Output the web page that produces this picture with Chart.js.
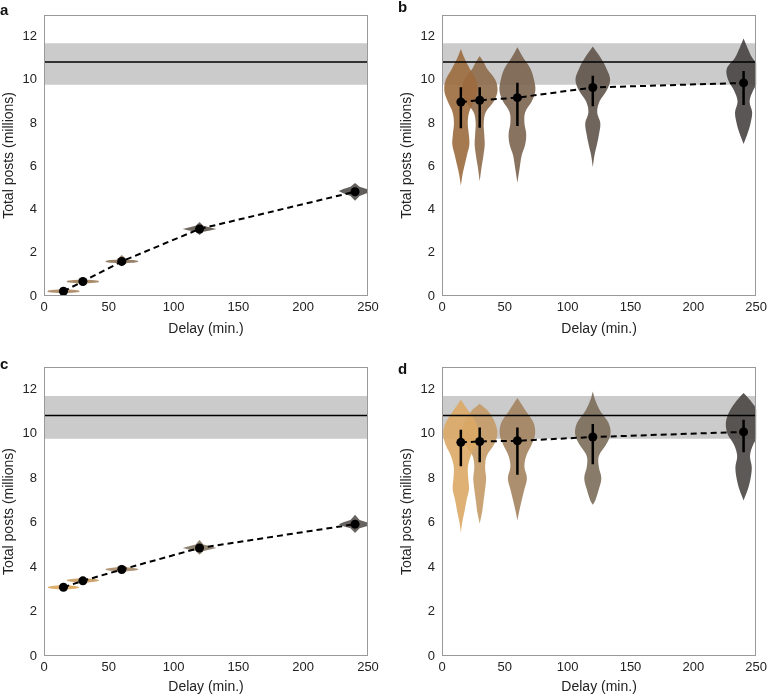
<!DOCTYPE html>
<html>
<head>
<meta charset="utf-8">
<script src="https://cdn.jsdelivr.net/npm/chart.js@4.4.1/dist/chart.umd.min.js"></script>
<style>
  body { margin: 0; background: #fff; width: 771px; height: 696px; position: relative; overflow: hidden; font-family: "Liberation Sans", Arial, sans-serif; }
  canvas { position: absolute; }
  .tag { position: absolute; font-weight: bold; font-size: 15px; color: #111; line-height: 1; }
</style>
</head>
<body>
<canvas id="pa" width="385" height="340" style="left:0;top:0"></canvas>
<canvas id="pb" width="386" height="340" style="left:385px;top:0"></canvas>
<canvas id="pc" width="385" height="351" style="left:0;top:345px"></canvas>
<canvas id="pd" width="386" height="351" style="left:385px;top:345px"></canvas>
<div class="tag" style="left:0px;top:2px">a</div>
<div class="tag" style="left:398px;top:-1px">b</div>
<div class="tag" style="left:0px;top:356px">c</div>
<div class="tag" style="left:398px;top:361px">d</div>
<script>
// delays (min.) and axis ticks
const delays = [15, 30, 60, 120, 240];
const xTicks = [0, 50, 100, 150, 200, 250];
const yTicks = [0, 2, 4, 6, 8, 10, 12];

// reference level (black line) and its gray band
const refLevel = 10.82;
const refLow = 9.77;
const refHigh = 11.69;

// means and error bars per panel
const meanA = [0.22, 0.67, 1.6, 3.1, 4.82];
const meanB = [8.97, 9.05, 9.17, 9.64, 9.85];
const lowB = [7.75, 7.78, 7.86, 8.77, 8.83];
const highB = [9.65, 9.65, 9.86, 10.18, 10.4];
const meanC = [3.09, 3.38, 3.89, 4.86, 5.93];
const meanD = [9.61, 9.65, 9.68, 9.85, 10.08];
const lowD = [8.53, 8.72, 8.15, 8.63, 9.16];
const highD = [10.18, 10.28, 10.28, 10.44, 10.63];

// violin profiles: [value, half width in min.]
const violinsA = [
  [[0.12,0],[0.14,4],[0.16,9],[0.19,12],[0.22,12.5],[0.25,12],[0.28,9],[0.3,4],[0.32,0]],
  [[0.55,0],[0.59,4],[0.61,9],[0.64,12],[0.67,12.5],[0.7,12],[0.73,9],[0.75,4],[0.8,0]],
  [[1.38,0],[1.52,4],[1.54,9],[1.57,12.2],[1.6,12.8],[1.63,12.2],[1.66,9],[1.68,4],[1.9,0]],
  [[2.82,0],[2.97,3],[3.04,9],[3.1,13],[3.16,9],[3.25,3],[3.42,0]],
  [[4.4,0],[4.62,3.5],[4.75,9],[4.85,12.6],[4.95,9],[5.05,3.5],[5.22,0]]
];
const violinsB = [
  [[5.1,0],[5.6,1.3],[6.0,2.8],[6.5,4.8],[7.0,6.8],[7.5,6.3],[8.0,5.5],[8.5,6.6],[9.0,10.5],[9.5,13.2],[10.0,12],[10.5,7.2],[11.0,2.8],[11.42,0]],
  [[5.3,0],[6.0,1.6],[6.5,3],[7.0,4],[7.5,3.6],[8.0,3.2],[8.5,4.8],[9.0,11.3],[9.5,14.2],[10.0,12.4],[10.5,6],[10.8,3.3],[11.1,0]],
  [[5.23,0],[6.0,2],[6.5,3.4],[7.0,6.2],[7.5,7],[8.0,5.6],[8.5,6.2],[9.0,11.5],[9.5,14.3],[10.0,13.2],[10.5,10.5],[11.0,4.8],[11.5,0]],
  [[5.95,0],[6.5,1.3],[7.0,3.3],[7.5,5],[8.0,6],[8.5,3.5],[9.0,5.4],[9.5,11],[10.0,13.8],[10.5,11],[11.0,6.4],[11.53,0]],
  [[7.03,0],[7.5,3.1],[8.0,5.6],[8.5,6.8],[9.0,4.8],[9.5,7.6],[10.0,12.4],[10.5,13.4],[11.0,7],[11.5,2.9],[11.9,0]]
];
const violinsC = [
  [[2.98,0],[3.0,4],[3.03,9],[3.06,11.7],[3.09,12.2],[3.12,11.7],[3.15,9],[3.18,4],[3.21,0]],
  [[3.26,0],[3.31,4],[3.34,9],[3.37,12],[3.4,12.5],[3.43,12],[3.46,9],[3.49,4],[3.56,0]],
  [[3.72,0],[3.81,4],[3.84,9],[3.87,12.2],[3.9,12.8],[3.93,12.2],[3.96,9],[3.99,4],[4.1,0]],
  [[4.55,0],[4.72,3],[4.8,9],[4.86,13],[4.92,9],[5.02,3],[5.22,0]],
  [[5.53,0],[5.75,3.5],[5.84,9],[5.93,12.6],[6.02,9],[6.12,3.5],[6.35,0]]
];
const violinsD = [
  [[5.55,0],[6.0,1.1],[6.5,2.9],[7.0,4.5],[7.5,6.5],[8.0,5.9],[8.5,5.6],[9.0,7.9],[9.5,12.1],[10.0,14.1],[10.5,12],[11.0,6.4],[11.53,0]],
  [[5.95,0],[6.5,2],[7.0,3.1],[7.5,4.3],[8.0,5.1],[8.5,4.3],[9.0,5.6],[9.5,11.3],[10.0,14.1],[10.5,12.1],[11.0,7],[11.35,0]],
  [[6.1,0],[6.5,1.4],[7.0,3.4],[7.5,5.6],[8.0,7.6],[8.5,5.6],[9.0,7],[9.5,11.3],[10.0,14.1],[10.5,12.8],[11.0,7],[11.4,2.4],[11.61,0]],
  [[6.8,0],[7.0,2],[7.5,4.8],[8.0,6.8],[8.5,4.8],[9.0,4.8],[9.5,10.5],[10.0,14.1],[10.5,12.4],[11.0,6.2],[11.5,2],[11.9,0]],
  [[7.0,0],[7.5,3.4],[8.0,5.6],[8.5,6.5],[9.0,5.1],[9.5,7.6],[10.0,12.8],[10.5,14.1],[11.0,11.3],[11.5,5.3],[11.83,0]]
];

const coloursA = ['#a8855f', '#9f7e59', '#8d7259', '#5e564e', '#504c49'];
const coloursB = ['#9c6b3e', '#8e6b4b', '#7b6450', '#5f544b', '#484443'];
const coloursC = ['#dca75d', '#c99a5f', '#a98c68', '#837563', '#55524f'];
const coloursD = ['#dba865', '#c59a67', '#a3835f', '#7b6d5a', '#4a4745'];

Chart.defaults.font.family = '"Liberation Sans", Arial, sans-serif';
Chart.defaults.color = '#222';

const frame = {
  id: 'frame',
  afterDraw(chart) {
    const { ctx, chartArea: a } = chart;
    ctx.save();
    ctx.strokeStyle = '#999';
    ctx.lineWidth = 1;
    ctx.strokeRect(Math.round(a.left) + 0.5, Math.round(a.top) + 0.5,
      Math.round(a.right - a.left) - 1, Math.round(a.bottom - a.top) - 1);
    ctx.restore();
  }
};

function violinPoints(centre, profile) {
  const right = profile.map(([v, w]) => ({ x: centre + w, y: v }));
  const left = profile.slice().reverse().map(([v, w]) => ({ x: centre - w, y: v }));
  return right.concat(left);
}

function hexA(hex, a) {
  const n = parseInt(hex.slice(1), 16);
  return `rgba(${n >> 16},${(n >> 8) & 255},${n & 255},${a})`;
}

function draw(id, means, lows, highs, violins, colours, smooth, pad, xHeight) {
  const datasets = [];
  // mean points + dashed line
  datasets.push({
    data: delays.map((d, i) => ({ x: d, y: means[i] })),
    borderColor: '#000', borderWidth: 2, borderDash: [6, 4],
    pointRadius: 4.5, pointBackgroundColor: '#000', pointBorderWidth: 0,
    fill: false, tension: 0, order: 0
  });
  if (lows) {
    const pts = [];
    delays.forEach((d, i) => { pts.push({ x: d, y: lows[i] }, { x: d, y: highs[i] }, { x: d, y: null }); });
    datasets.push({
      data: pts, borderColor: '#000', borderWidth: 2.5, pointRadius: 0,
      spanGaps: false, fill: false, order: 1
    });
  }
  datasets.push({
    data: [{ x: 0, y: refLevel }, { x: 250, y: refLevel }],
    borderColor: '#000', borderWidth: 1.5, pointRadius: 0, fill: false, order: 2
  });
  violins.forEach((prof, i) => {
    datasets.push({
      data: violinPoints(delays[i], prof),
      borderWidth: 0, borderColor: 'rgba(0,0,0,0)', pointRadius: 0,
      backgroundColor: hexA(colours[i], 0.9), fill: 'shape', tension: smooth,
      order: 3 + i
    });
  });
  datasets.push({
    data: [{ x: 0, y: refHigh }, { x: 250, y: refHigh }],
    borderWidth: 0, borderColor: 'rgba(0,0,0,0)', pointRadius: 0,
    backgroundColor: '#cbcbcb', fill: { value: refLow }, order: 20
  });

  new Chart(document.getElementById(id), {
    type: 'line',
    data: { datasets },
    plugins: [frame],
    options: {
      responsive: false, animation: false,
      layout: { padding: pad },
      plugins: { legend: { display: false }, tooltip: { enabled: false } },
      scales: {
        x: {
          type: 'linear', min: 0, max: 250,
          afterBuildTicks: s => { s.ticks = xTicks.map(v => ({ value: v })); },
          afterFit: s => { s.height = xHeight; },
          grid: { display: false, drawTicks: false },
          border: { display: false },
          ticks: { padding: 4, font: { size: 13 }, color: '#222', maxRotation: 0 },
          title: { display: true, text: 'Delay (min.)', font: { size: 14 }, color: '#222', padding: { top: 0, bottom: 0 } }
        },
        y: {
          type: 'linear', min: 0, max: 13,
          afterBuildTicks: s => { s.ticks = yTicks.map(v => ({ value: v })); },
          afterFit: s => { s.width = 44; },
          grid: { display: false, drawTicks: false },
          border: { display: false },
          ticks: { padding: 7, font: { size: 13 }, color: '#222' },
          title: { display: true, text: 'Total posts (millions)', font: { size: 14 }, color: '#222', padding: { top: 1, bottom: 0 } }
        }
      }
    }
  });
}

draw('pa', meanA, null, null, violinsA, coloursA, 0, { left: 0, top: 6, right: 17, bottom: 2 }, 42);
draw('pb', meanB, lowB, highB, violinsB, coloursB, 0.35, { left: 13, top: 6, right: 5, bottom: 2 }, 42);
draw('pc', meanC, null, null, violinsC, coloursC, 0, { left: 0, top: 22, right: 17, bottom: 0 }, 40);
draw('pd', meanD, lowD, highD, violinsD, coloursD, 0.35, { left: 13, top: 22, right: 5, bottom: 0 }, 40);
</script>
</body>
</html>
